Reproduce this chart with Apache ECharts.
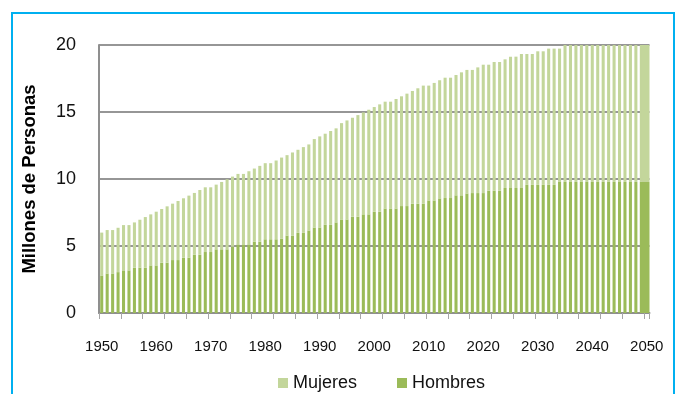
<!DOCTYPE html>
<html>
<head>
<meta charset="utf-8">
<script src="https://cdn.jsdelivr.net/npm/echarts@6/dist/echarts.min.js"></script>
<style>
  html, body { margin: 0; padding: 0; background: #ffffff; }
  #chart { width: 680px; height: 394px; }
</style>
</head>
<body>
<div id="chart"></div>
<script>
// Población por sexo, 1950–2050 (millones de personas)
const years = [];
for (let y = 1950; y <= 2050; y++) years.push(String(y));

const hombres = [
  2.80, 2.95, 2.95, 3.05, 3.18, 3.18, 3.38, 3.38, 3.38, 3.55,
  3.55, 3.75, 3.75, 3.95, 3.95, 4.13, 4.13, 4.35, 4.35, 4.55,
  4.55, 4.75, 4.75, 4.75, 4.95, 5.12, 5.12, 5.12, 5.32, 5.32,
  5.50, 5.50, 5.50, 5.55, 5.78, 5.78, 5.98, 5.98, 6.16, 6.38,
  6.38, 6.58, 6.58, 6.76, 6.98, 6.98, 7.18, 7.18, 7.36, 7.36,
  7.56, 7.56, 7.80, 7.80, 7.80, 7.98, 7.98, 8.15, 8.15, 8.15,
  8.40, 8.40, 8.55, 8.58, 8.58, 8.78, 8.78, 8.92, 8.95, 8.95,
  8.95, 9.13, 9.13, 9.13, 9.33, 9.33, 9.33, 9.33, 9.56, 9.56,
  9.56, 9.56, 9.56, 9.56, 9.78, 9.78, 9.78, 9.78, 9.78, 9.78,
  9.78, 9.78, 9.78, 9.78, 9.78, 9.78, 9.78, 9.78, 9.78, 9.78,
  9.78
];

const mujeres = [
  3.20, 3.24, 3.24, 3.31, 3.38, 3.38, 3.38, 3.58, 3.78, 3.81,
  4.01, 4.01, 4.21, 4.21, 4.41, 4.43, 4.63, 4.61, 4.83, 4.83,
  4.83, 4.83, 5.03, 5.23, 5.23, 5.26, 5.26, 5.46, 5.46, 5.66,
  5.68, 5.68, 5.88, 6.05, 6.00, 6.20, 6.20, 6.40, 6.42, 6.60,
  6.80, 6.80, 7.00, 7.02, 7.19, 7.39, 7.39, 7.59, 7.61, 7.81,
  7.81, 8.01, 7.97, 7.97, 8.17, 8.19, 8.39, 8.42, 8.62, 8.82,
  8.57, 8.77, 8.82, 8.98, 8.98, 8.98, 9.18, 9.22, 9.19, 9.38,
  9.58, 9.40, 9.60, 9.60, 9.60, 9.80, 9.80, 10.00, 9.77, 9.77,
  9.97, 9.97, 10.17, 10.17, 9.95, 10.22, 10.22, 10.22, 10.22, 10.22,
  10.22, 10.22, 10.22, 10.22, 10.22, 10.22, 10.22, 10.22, 10.22, 10.22,
  10.22
];

const yTicks = [0, 5, 10, 15, 20];

const COLOR_H = '#9bbb59';
const COLOR_M = '#c3d69b';
const FONT = '"Liberation Sans", Arial, sans-serif';
const lastIndex = years.length - 1;

// stacked segments: [categoryIndex, base, top]
const hombresData = hombres.map((v, i) => [i, 0, v]);
const mujeresData = mujeres.map((v, i) => [i, hombres[i], hombres[i] + v]);

function renderBar(params, api) {
  const idx = api.value(0);
  const pBase = api.coord([idx, api.value(1)]);
  const pTop = api.coord([idx, api.value(2)]);
  const band = api.size([1, 0])[0];
  let w, x;
  if (idx === lastIndex) {
    w = band * 1.38;
    x = pBase[0] + band / 2 - w;
  } else {
    w = band * 0.56;
    x = pBase[0] - w / 2;
  }
  return {
    type: 'rect',
    shape: { x: x, y: pTop[1], width: w, height: pBase[1] - pTop[1] },
    style: api.style()
  };
}

const chart = echarts.init(document.getElementById('chart'), null, { renderer: 'canvas' });

chart.setOption({
  animation: false,
  backgroundColor: '#ffffff',
  graphic: [{
    type: 'rect',
    z: 100,
    shape: { x: 12, y: 13, width: 662, height: 400 },
    style: { fill: 'none', stroke: '#00b0f0', lineWidth: 2 }
  }],
  grid: { left: 99, right: 30.5, top: 45, bottom: 81, containLabel: false },
  legend: {
    left: 273,
    top: 369,
    icon: 'rect',
    itemWidth: 10,
    itemHeight: 10,
    itemGap: 40,
    textStyle: { fontFamily: FONT, fontSize: 18, color: '#111' },
    data: [
      { name: 'Mujeres', itemStyle: { color: COLOR_M } },
      { name: 'Hombres', itemStyle: { color: COLOR_H } }
    ]
  },
  xAxis: {
    type: 'category',
    data: years,
    boundaryGap: true,
    axisLine: { show: true, lineStyle: { color: '#8f8f8f', width: 2 } },
    axisTick: { show: true, interval: 3, length: 6, lineStyle: { color: '#a6a6a6', width: 1 } },
    axisLabel: {
      interval: 9,
      margin: 26,
      fontFamily: FONT,
      fontSize: 15,
      color: '#111'
    },
    splitLine: { show: false }
  },
  yAxis: {
    type: 'value',
    min: yTicks[0],
    max: yTicks[yTicks.length - 1],
    interval: 5,
    name: 'Millones de Personas',
    nameLocation: 'middle',
    nameGap: 60,
    nameTextStyle: { fontFamily: FONT, fontSize: 18.5, fontWeight: 'bold', color: '#000' },
    axisLine: { show: true, lineStyle: { color: '#8f8f8f', width: 2 } },
    axisTick: { show: false },
    axisLabel: { margin: 23, fontFamily: FONT, fontSize: 18, color: '#111' },
    splitLine: { show: true, lineStyle: { color: '#969696', width: 2 } }
  },
  series: [
    {
      name: 'Hombres',
      type: 'custom',
      renderItem: renderBar,
      encode: { x: 0, y: [1, 2] },
      itemStyle: { color: COLOR_H },
      data: hombresData,
      z: 2
    },
    {
      name: 'Mujeres',
      type: 'custom',
      renderItem: renderBar,
      encode: { x: 0, y: [1, 2] },
      itemStyle: { color: COLOR_M },
      data: mujeresData,
      z: 2
    }
  ]
});
</script>
</body>
</html>
